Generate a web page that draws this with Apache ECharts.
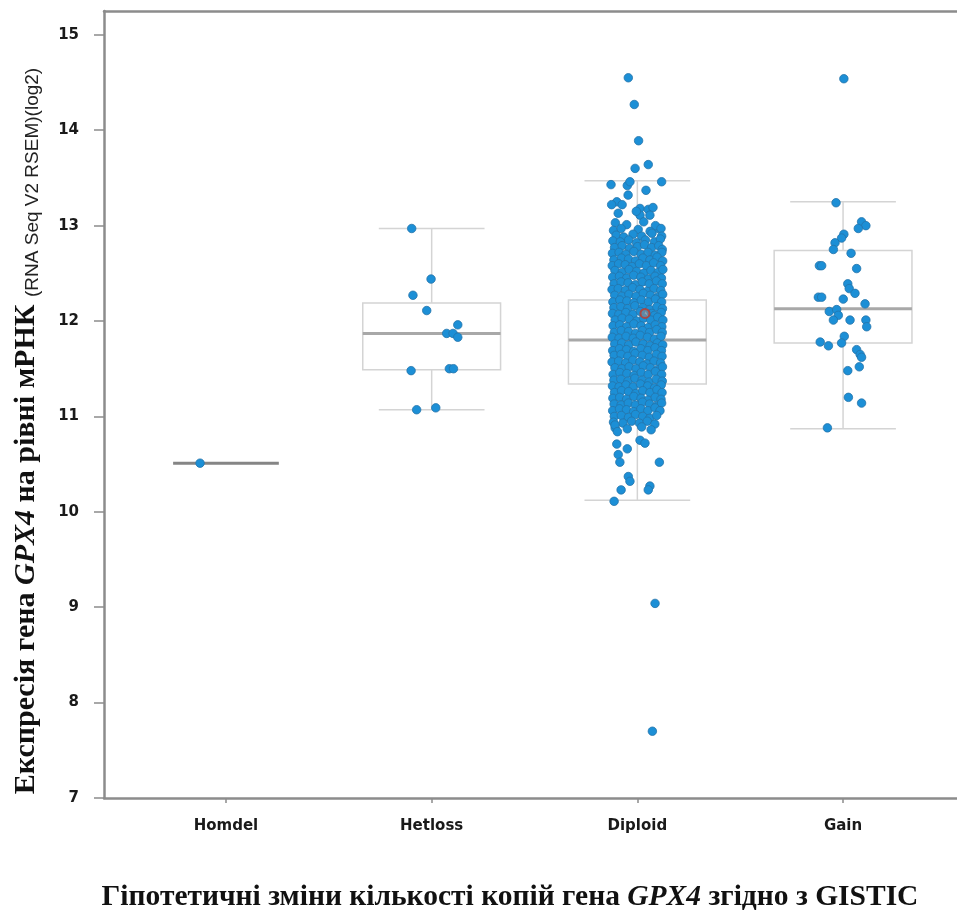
<!DOCTYPE html>
<html>
<head>
<meta charset="utf-8">
<title>GPX4</title>
<script src="https://cdn.jsdelivr.net/npm/echarts@6/dist/echarts.min.js"></script>
<style>
  html, body { margin: 0; padding: 0; background: #fff; }
  #chart { width: 957px; height: 912px; }
</style>
</head>
<body>
<div id="chart"></div>
<script>
// categories on the x axis (positions 0..3)
let categories = ['Homdel', 'Hetloss', 'Diploid', 'Gain'];
let yTicks = [7, 8, 9, 10, 11, 12, 13, 14, 15];

// box statistics: [position, min, q1, median, q3, max]
let boxStats = [
  [0, 10.51, 10.51, 10.51, 10.51, 10.51],
  [1, 11.07, 11.49, 11.87, 12.19, 12.97],
  [2, 10.12, 11.34, 11.80, 12.22, 13.47],
  [3, 10.87, 11.77, 12.13, 12.74, 13.25]
];

// samples: [jittered position, expression]
let homdelPoints = [[-0.126, 10.51]];

let hetlossPoints = [
  [0.903, 12.97], [0.997, 12.44], [0.909, 12.27], [0.976, 12.11], [1.127, 11.96],
  [1.073, 11.87], [1.104, 11.87], [1.127, 11.83], [0.900, 11.48], [1.086, 11.50],
  [1.106, 11.50], [0.927, 11.07], [1.020, 11.09]
];

let gainPoints = [
  [3.004, 14.54], [2.966, 13.24], [3.090, 13.04], [3.111, 13.00], [3.074, 12.97],
  [3.004, 12.91], [2.993, 12.87], [2.961, 12.82], [2.953, 12.75], [3.039, 12.71],
  [2.885, 12.58], [2.896, 12.58], [3.066, 12.55], [3.023, 12.39], [3.030, 12.34],
  [3.058, 12.29], [2.880, 12.25], [2.896, 12.25], [3.001, 12.23], [3.107, 12.18],
  [2.933, 12.10], [2.969, 12.12], [2.977, 12.06], [2.953, 12.01], [3.034, 12.01],
  [3.111, 12.01], [3.115, 11.94], [3.006, 11.84], [2.993, 11.77], [2.889, 11.78],
  [2.929, 11.74], [3.066, 11.70], [3.083, 11.65], [3.090, 11.62], [3.079, 11.52],
  [3.023, 11.48], [3.026, 11.20], [3.090, 11.14], [2.924, 10.88]
];

let diploidPoints = [
  // sparse upper part
  [1.956, 14.55], [1.985, 14.27], [2.006, 13.89], [1.989, 13.60], [2.053, 13.64],
  [1.872, 13.43], [1.951, 13.42], [1.964, 13.46], [2.118, 13.46], [2.042, 13.37],
  [1.900, 13.25], [1.875, 13.22], [1.907, 13.13], [2.013, 13.18], [2.053, 13.17],
  [2.076, 13.19], [2.013, 13.11], [2.061, 13.11], [2.102, 12.97], [1.955, 13.32],
  [1.926, 13.22], [1.995, 13.15],
  // dense core
  [1.893, 13.03], [1.948, 13.01], [2.031, 13.04], [2.088, 13.00],
  [1.884, 12.95], [1.921, 12.97], [2.004, 12.96], [2.062, 12.94], [2.115, 12.97],
  [1.897, 12.90], [1.934, 12.88], [1.979, 12.91], [2.021, 12.89], [2.071, 12.92], [2.118, 12.89],
  [1.881, 12.84], [1.917, 12.83], [1.958, 12.85], [1.996, 12.82], [2.039, 12.85], [2.083, 12.83], [2.112, 12.86],
  [1.889, 12.77], [1.926, 12.79], [1.962, 12.76], [2.001, 12.78], [2.035, 12.80], [2.069, 12.77], [2.104, 12.79], [2.121, 12.75],
  [1.879, 12.71], [1.911, 12.72], [1.944, 12.70], [1.983, 12.73], [2.018, 12.70], [2.052, 12.72], [2.087, 12.69], [2.119, 12.72],
  [1.886, 12.64], [1.923, 12.66], [1.957, 12.65], [1.991, 12.63], [2.027, 12.66], [2.061, 12.64], [2.096, 12.67], [2.123, 12.63],
  [1.878, 12.58], [1.909, 12.60], [1.941, 12.59], [1.975, 12.57], [2.010, 12.60], [2.044, 12.58], [2.079, 12.61], [2.113, 12.58],
  [1.891, 12.53], [1.926, 12.51], [1.960, 12.54], [1.996, 12.52], [2.031, 12.50], [2.066, 12.53], [2.101, 12.51], [2.124, 12.54],
  [1.880, 12.46], [1.913, 12.47], [1.948, 12.45], [1.982, 12.48], [2.017, 12.46], [2.053, 12.44], [2.086, 12.47], [2.117, 12.45],
  [1.887, 12.39], [1.921, 12.41], [1.955, 12.40], [1.990, 12.38], [2.024, 12.41], [2.058, 12.39], [2.093, 12.42], [2.121, 12.39],
  [1.877, 12.33], [1.907, 12.34], [1.942, 12.32], [1.977, 12.35], [2.012, 12.33], [2.047, 12.31], [2.081, 12.34], [2.114, 12.32],
  [1.890, 12.27], [1.925, 12.26], [1.959, 12.28], [1.994, 12.26], [2.029, 12.29], [2.063, 12.27], [2.098, 12.25], [2.123, 12.28],
  [1.881, 12.20], [1.915, 12.22], [1.949, 12.21], [1.984, 12.19], [2.019, 12.22], [2.054, 12.20], [2.088, 12.23], [2.118, 12.20],
  [1.886, 12.14], [1.920, 12.15], [1.953, 12.13], [1.988, 12.16], [2.026, 12.14], [2.060, 12.12], [2.095, 12.15], [2.122, 12.13],
  [1.879, 12.08], [1.910, 12.07], [1.944, 12.09], [1.979, 12.07], [2.015, 12.10], [2.070, 12.08], [2.084, 12.06], [2.116, 12.09],
  [1.892, 12.01], [1.926, 12.03], [1.961, 12.02], [1.996, 12.00], [2.030, 12.03], [2.065, 12.01], [2.099, 12.04], [2.124, 12.01],
  [1.882, 11.95], [1.914, 11.96], [1.948, 11.94], [1.983, 11.97], [2.018, 11.95], [2.052, 11.93], [2.087, 11.96], [2.119, 11.94],
  [1.888, 11.88], [1.922, 11.90], [1.957, 11.89], [1.991, 11.87], [2.025, 11.90], [2.059, 11.88], [2.094, 11.91], [2.121, 11.88],
  [1.878, 11.83], [1.911, 11.82], [1.945, 11.84], [1.980, 11.82], [2.014, 11.85], [2.049, 11.83], [2.083, 11.81], [2.115, 11.84],
  [1.890, 11.76], [1.924, 11.77], [1.958, 11.75], [1.993, 11.78], [2.028, 11.76], [2.062, 11.74], [2.097, 11.77], [2.123, 11.75],
  [1.880, 11.69], [1.913, 11.71], [1.947, 11.70], [1.982, 11.68], [2.017, 11.71], [2.051, 11.69], [2.086, 11.72], [2.117, 11.69],
  [1.887, 11.64], [1.921, 11.65], [1.954, 11.63], [1.989, 11.66], [2.024, 11.64], [2.058, 11.62], [2.093, 11.65], [2.120, 11.63],
  [1.877, 11.57], [1.909, 11.58], [1.943, 11.56], [1.978, 11.59], [2.012, 11.57], [2.047, 11.55], [2.081, 11.58], [2.113, 11.56],
  [1.891, 11.51], [1.925, 11.50], [1.960, 11.52], [1.994, 11.50], [2.029, 11.53], [2.063, 11.51], [2.098, 11.49], [2.122, 11.52],
  [1.882, 11.44], [1.915, 11.46], [1.949, 11.45], [1.984, 11.43], [2.019, 11.46], [2.053, 11.44], [2.088, 11.47], [2.118, 11.44],
  [1.886, 11.38], [1.920, 11.39], [1.954, 11.37], [1.988, 11.40], [2.023, 11.38], [2.057, 11.36], [2.092, 11.39], [2.121, 11.37],
  [1.879, 11.32], [1.911, 11.31], [1.945, 11.33], [1.980, 11.31], [2.015, 11.34], [2.050, 11.32], [2.084, 11.30], [2.116, 11.33],
  [1.889, 11.25], [1.923, 11.27], [1.957, 11.26], [1.992, 11.24], [2.026, 11.27], [2.061, 11.25], [2.095, 11.28], [2.120, 11.25],
  [1.881, 11.19], [1.914, 11.20], [1.948, 11.18], [1.983, 11.21], [2.018, 11.19], [2.052, 11.17], [2.087, 11.20], [2.115, 11.18],
  [1.887, 11.13], [1.921, 11.12], [1.956, 11.14], [1.990, 11.12], [2.025, 11.15], [2.059, 11.13], [2.093, 11.11], [2.118, 11.14],
  [1.880, 11.06], [1.913, 11.08], [1.947, 11.07], [1.982, 11.05], [2.017, 11.08], [2.051, 11.06], [2.086, 11.09], [2.110, 11.06],
  [1.888, 11.00], [1.922, 11.01], [1.957, 10.99], [1.991, 11.02], [2.026, 11.00], [2.060, 10.98], [2.094, 11.01],
  [1.884, 10.94], [1.930, 10.93], [1.972, 10.95], [2.010, 10.93], [2.048, 10.95], [2.085, 10.92],
  [1.892, 10.88], [1.951, 10.87], [2.021, 10.89], [2.067, 10.86],
  // sparse lower part
  [1.891, 10.91], [1.903, 10.84], [2.013, 10.75], [2.037, 10.72], [1.900, 10.71],
  [1.951, 10.66], [1.907, 10.60], [1.915, 10.52], [2.107, 10.52], [1.956, 10.37],
  [1.964, 10.32], [1.921, 10.23], [2.061, 10.27], [2.053, 10.23], [1.887, 10.11],
  [2.086, 9.04], [2.073, 7.70]
];

// highlighted sample in Diploid
let markedPoint = [[2.037, 12.08]];

let boxHalf = 0.335;
let capHalf = 0.257;
let axisGray = '#8c8c8c';

function renderBox(params, api) {
  let x = api.value(0);
  let lo = api.value(1), q1 = api.value(2), med = api.value(3), q3 = api.value(4), hi = api.value(5);
  let thin = { stroke: '#d4d4d4', lineWidth: 1.5, fill: 'none' };
  let kids = [];
  function seg(x1, y1, x2, y2, style) {
    let a = api.coord([x1, y1]);
    let b = api.coord([x2, y2]);
    kids.push({ type: 'line', shape: { x1: a[0], y1: a[1], x2: b[0], y2: b[1] }, style: style });
  }
  if (q3 > q1) {
    seg(x, q3, x, hi, thin);
    seg(x, q1, x, lo, thin);
    seg(x - capHalf, hi, x + capHalf, hi, thin);
    seg(x - capHalf, lo, x + capHalf, lo, thin);
    let a = api.coord([x - boxHalf, q3]);
    let b = api.coord([x + boxHalf, q1]);
    kids.push({ type: 'rect', shape: { x: a[0], y: a[1], width: b[0] - a[0], height: b[1] - a[1] }, style: thin });
    seg(x - boxHalf, med, x + boxHalf, med, { stroke: '#a8a8a8', lineWidth: 3 });
  } else {
    seg(x - capHalf, med, x + capHalf, med, { stroke: '#858585', lineWidth: 3 });
  }
  return { type: 'group', children: kids };
}

let dotStyle = { color: '#1c8fd6', borderColor: '#2474aa', borderWidth: 0.8, opacity: 1 };

function dots(data) {
  return {
    type: 'scatter', data: data, symbolSize: 8.5, itemStyle: dotStyle,
    silent: true, z: 3
  };
}

let chart = echarts.init(document.getElementById('chart'));
chart.setOption({
  animation: false,
  backgroundColor: '#fff',
  grid: { left: 104, right: 0, top: 11, bottom: 114 },
  xAxis: [{
    type: 'value',
    min: -0.593,
    max: 3.554,
    splitLine: { show: false },
    axisLine: { onZero: false, lineStyle: { color: axisGray, width: 2.5 } },
    axisTick: { customValues: [0, 1, 2, 3], length: 5, lineStyle: { color: axisGray, width: 1.5 } },
    axisLabel: {
      customValues: [0, 1, 2, 3],
      formatter: function (v) { return categories[Math.round(v)]; },
      margin: 21, color: '#1a1a1a', fontSize: 15, fontWeight: 'bold', fontFamily: 'DejaVu Sans'
    }
  }, {
    type: 'value', position: 'top',
    min: -0.593, max: 3.554,
    splitLine: { show: false },
    axisLine: { show: true, onZero: false, lineStyle: { color: axisGray, width: 2.5 } },
    axisTick: { show: false },
    axisLabel: { show: false }
  }],
  yAxis: {
    type: 'value',
    min: 7,
    max: 15.25,
    interval: 1,
    splitLine: { show: false },
    axisLine: { show: true, onZero: false, lineStyle: { color: axisGray, width: 2.5 } },
    axisTick: { show: true, customValues: yTicks, length: 10, lineStyle: { color: axisGray, width: 1.5 } },
    axisLabel: {
      customValues: yTicks,
      margin: 25, color: '#1a1a1a', fontSize: 15, fontWeight: 'bold', fontFamily: 'DejaVu Sans'
    }
  },
  graphic: [{
    type: 'text',
    x: 26, y: 431,
    rotation: Math.PI / 2,
    style: {
      text: '{b|Експресія гена }{i|GPX4}{b| на рівні мРНК }{s|(RNA Seq V2 RSEM)(log2)}',
      align: 'center', verticalAlign: 'middle',
      fill: '#111',
      rich: {
        b: { fontFamily: 'Liberation Serif', fontWeight: 'bold', fontSize: 30, fill: '#111' },
        i: { fontFamily: 'Liberation Serif', fontWeight: 'bold', fontStyle: 'italic', fontSize: 30, fill: '#111' },
        s: { fontFamily: 'Liberation Sans', fontSize: 19, fill: '#222', padding: [14, 0, 0, 0] }
      }
    }
  }, {
    type: 'text',
    x: 510, y: 897,
    style: {
      text: '{b|Гіпотетичні зміни кількості копій гена }{i|GPX4}{b| згідно з GISTIC}',
      align: 'center', verticalAlign: 'middle',
      rich: {
        b: { fontFamily: 'Liberation Serif', fontWeight: 'bold', fontSize: 29.5, fill: '#111' },
        i: { fontFamily: 'Liberation Serif', fontWeight: 'bold', fontStyle: 'italic', fontSize: 29.5, fill: '#111' }
      }
    }
  }],
  series: [
    {
      type: 'custom',
      renderItem: renderBox,
      data: boxStats,
      encode: { x: 0, y: [1, 2, 3, 4, 5] },
      silent: true,
      z: 2
    },
    dots(homdelPoints),
    dots(hetlossPoints),
    dots(diploidPoints),
    dots(gainPoints),
    {
      type: 'scatter', data: markedPoint, symbolSize: 9, silent: true, z: 4,
      itemStyle: { color: '#6f8aa0', borderColor: '#c0392b', borderWidth: 2 }
    }
  ]
});
</script>
</body>
</html>
